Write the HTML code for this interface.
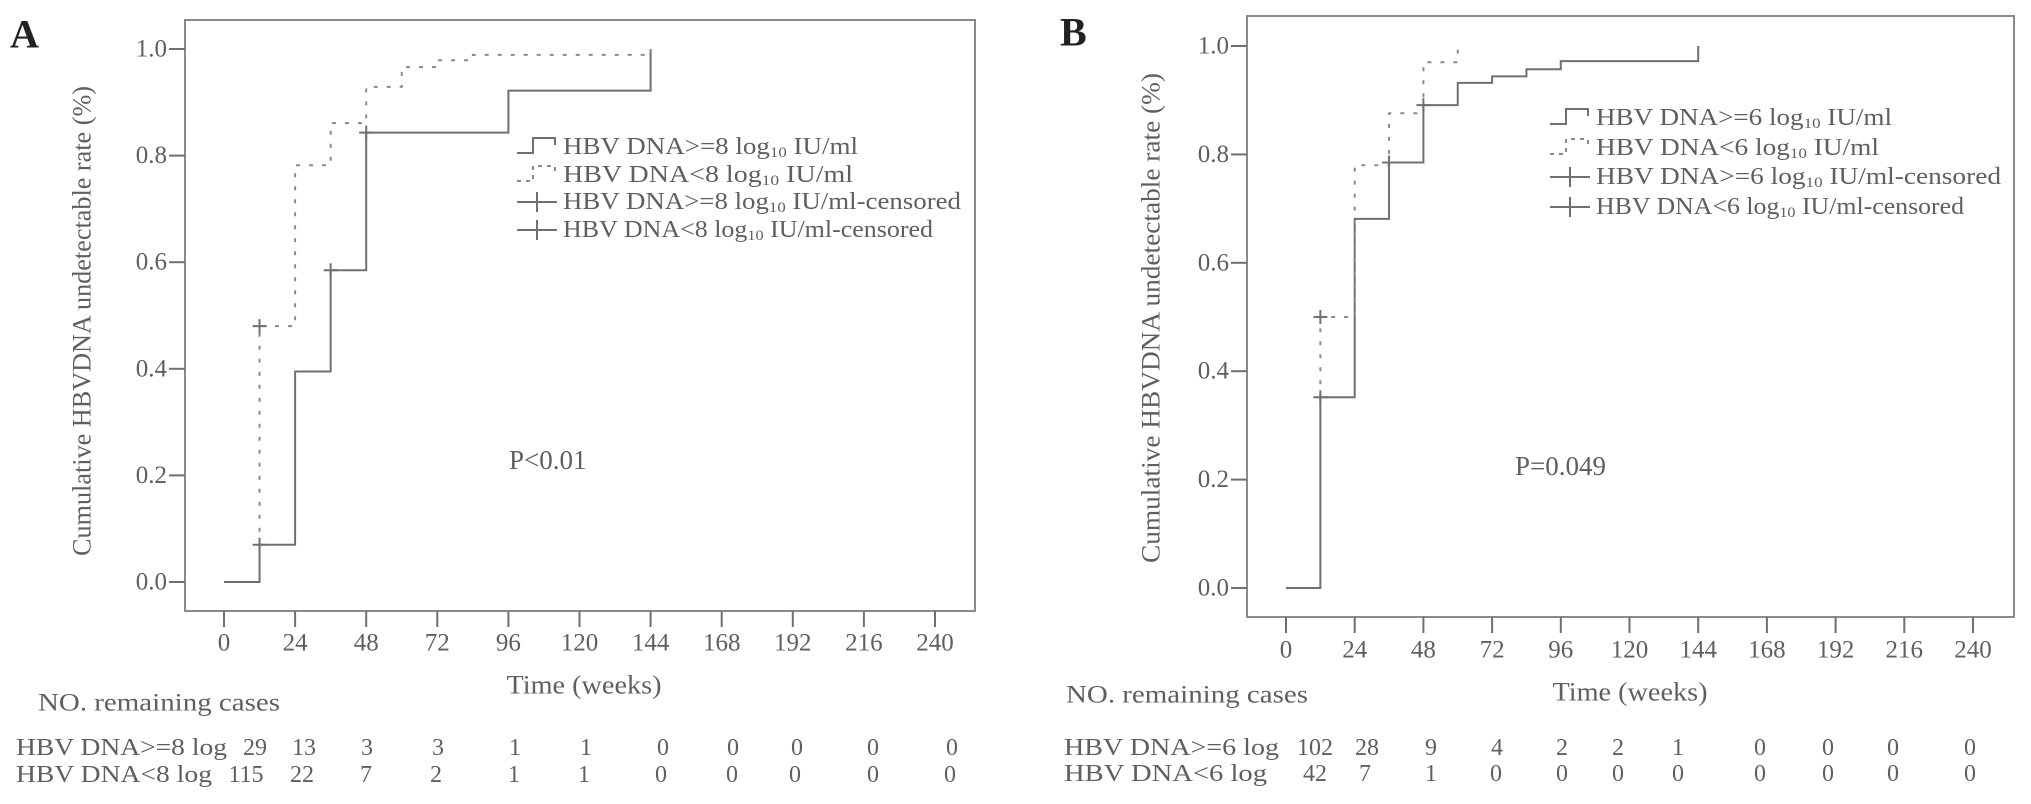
<!DOCTYPE html>
<html><head><meta charset="utf-8">
<style>
html,body{margin:0;padding:0;background:#fff;}
svg{display:block;}
text{font-family:"Liberation Serif",serif;fill:#5f5f5f;}
</style></head>
<body>
<svg id="fig" width="2031" height="804" viewBox="0 0 2031 804" xmlns="http://www.w3.org/2000/svg"></svg>
<script>
// ---------- Panel A data ----------
const xTicks = [0,24,48,72,96,120,144,168,192,216,240];
const yTicks = [0.0,0.2,0.4,0.6,0.8,1.0];
const aHighT = [0,12,24,36,48,96,144];
const aHighV = [0,0.07,0.395,0.585,0.843,0.922,1.0];
const aLowT = [12,24,36,48,60,72,84,144];
const aLowV = [0.48,0.782,0.861,0.929,0.966,0.979,0.989,1.0];
const aLowStartV = 0.07;
const aHighCensT = [12,36,48];
const aLowCensT = [12];
const aRowHigh = [29,13,3,3,1,1,0,0,0,0,0];
const aRowLow = [115,22,7,2,1,1,0,0,0,0,0];
// ---------- Panel B data ----------
const bHighT = [0,12,24,36,48,60,72,84,96,144];
const bHighV = [0,0.352,0.681,0.785,0.891,0.932,0.944,0.957,0.972,1.0];
const bLowT = [12,24,36,48,60];
const bLowV = [0.5,0.78,0.876,0.97,1.0];
const bLowStartV = 0.352;
const bHighCensT = [12,36,48];
const bLowCensT = [12];
const bRowHigh = [102,28,9,4,2,2,1,0,0,0,0];
const bRowLow = [42,7,1,0,0,0,0,0,0,0,0];

const NS="http://www.w3.org/2000/svg";
const svg=document.getElementById('fig');
const GRAY="#707070";
function mk(tag,attrs,parent){const e=document.createElementNS(NS,tag);for(const k in attrs)e.setAttribute(k,attrs[k]);(parent||svg).appendChild(e);return e;}
function txt(s,x,y,size,anchor,parent,tl){const a={x:x,y:y,'font-size':size,'text-anchor':anchor||'start','dominant-baseline':'central'};if(tl){a.textLength=tl;a.lengthAdjust='spacingAndGlyphs';}const t=mk('text',a,parent);t.textContent=s;return t;}

function stepAt(T,V,t){let v=V[0];for(let i=0;i<T.length;i++){if(T[i]<=t)v=V[i];}return v;}

function panel(cfg){
  const g=mk('g',{});
  
  
  const X=t=>cfg.x0+t*cfg.xs;
  const Y=v=>cfg.y0-v*cfg.ys;
  const fr=mk('rect',{x:cfg.fl,y:cfg.ft,width:cfg.fr-cfg.fl,height:cfg.fb-cfg.ft,fill:'none',stroke:'#8a8a8a','stroke-width':2},g);
  
  
  const pl=mk('text',{x:cfg.lx,y:cfg.ly,'font-size':40,'font-weight':'bold','dominant-baseline':'central',style:'fill:#222'},g);
  pl.textContent=cfg.letter;
  
  
  yTicks.forEach(v=>{
    const l=mk('line',{x1:cfg.fl-16,x2:cfg.fl,y1:Y(v),y2:Y(v),stroke:GRAY,'stroke-width':2},g);
    
    
    const t=txt(v.toFixed(1),cfg.fl-18,Y(v),25,'end',g);
    
    
  });
  xTicks.forEach(tk=>{
    const l=mk('line',{x1:X(tk),x2:X(tk),y1:cfg.fb,y2:cfg.fb+16,stroke:GRAY,'stroke-width':2},g);
    
    
    const t=txt(String(tk),X(tk),cfg.tly,25,'middle',g);
    
    
  });
  const xt=txt('Time (weeks)',cfg.xtx,cfg.xty,26,'middle',g,155);
  
  
  const yt=mk('text',{x:0,y:0,'font-size':26,'text-anchor':'middle','dominant-baseline':'central',transform:`translate(${cfg.ytx},${cfg.yty}) rotate(-90)`,textLength:cfg.ytl,lengthAdjust:'spacingAndGlyphs'},g);
  yt.textContent='Cumulative HBVDNA undetectable rate (%)';
  
  
  let d=`M${X(cfg.hT[0])},${Y(cfg.hV[0])}`;
  for(let i=1;i<cfg.hT.length;i++){d+=` H${X(cfg.hT[i])} V${Y(cfg.hV[i])}`;}
  const sp=mk('path',{d:d,fill:'none',stroke:GRAY,'stroke-width':2},g);
  
  
  let d2=`M${X(cfg.lT[0])},${Y(cfg.lStart)} V${Y(cfg.lV[0])}`;
  for(let i=1;i<cfg.lT.length;i++){d2+=` H${X(cfg.lT[i])} V${Y(cfg.lV[i])}`;}
  const dp=mk('path',{d:d2,fill:'none',stroke:'#8a8a8a','stroke-width':2,'stroke-dasharray':'4,9'},g);
  
  
  cfg.hC.forEach(t=>{
    const v=stepAt(cfg.hT,cfg.hV,t);
    const c=mk('path',{d:`M${X(t)-7},${Y(v)} H${X(t)+7} M${X(t)},${Y(v)-7} V${Y(v)+7}`,stroke:GRAY,'stroke-width':2},g);
    
    
  });
  cfg.lC.forEach(t=>{
    const v=stepAt(cfg.lT,cfg.lV,t);
    const c=mk('path',{d:`M${X(t)-7},${Y(v)} H${X(t)+7} M${X(t)},${Y(v)-7} V${Y(v)+7}`,stroke:GRAY,'stroke-width':2},g);
    
    
  });
  const lg=mk('g',{},g);
  
  
  cfg.legend.forEach((lab,i)=>{
    const y=cfg.legY[i], x=cfg.legX;
    let sym;
    if(i===0) sym=mk('path',{d:`M${x},${y+6} H${x+16} V${y-9} H${x+38} V${y-2}`,fill:'none',stroke:GRAY,'stroke-width':2},lg);
    else if(i===1) sym=mk('path',{d:`M${x},${y+6} H${x+16} V${y-9} H${x+38} V${y-2}`,fill:'none',stroke:'#8a8a8a','stroke-width':2,'stroke-dasharray':'4,5'},lg);
    else sym=mk('path',{d:`M${x},${y} H${x+40} M${x+20},${y-10} V${y+10}`,fill:'none',stroke:GRAY,'stroke-width':2},lg);
    
    
    const t=mk('text',{x:x+46,y:y,'font-size':24,'dominant-baseline':'central',textLength:cfg.legW[i],lengthAdjust:'spacingAndGlyphs'},lg);
    t.innerHTML=lab;
    
    
  });
  const p=txt(cfg.p,cfg.px,cfg.py,27,'start',g);
  
  
  const nr=txt('NO. remaining cases',cfg.nrx,cfg.nry,25,'start',g,242);
  
  
  [[cfg.r1lab,cfg.r1,cfg.r1y,cfg.r1x,cfg.r1w],[cfg.r2lab,cfg.r2,cfg.r2y,cfg.r2x,cfg.r2w]].forEach(([lab,vals,y,xs,w])=>{
    const l=txt(lab,cfg.rlx,y,24,'start',g,w);
    
    
    vals.forEach((v,i)=>{
      const c=txt(String(v),xs[i],y,24,'middle',g);
      
      
    });
  });
}

panel({name:'panel-a',letter:'A',lx:10,ly:34,fl:185,ft:20,fr:975,fb:611,x0:224,xs:71.1/24,y0:582,ys:533,tly:643,
  xtx:584,xty:685,ytx:82,yty:321,ytl:470,
  hT:aHighT,hV:aHighV,lT:aLowT,lV:aLowV,lStart:aLowStartV,hC:aHighCensT,lC:aLowCensT,
  legX:517,legY:[147,175,202,230],legW:[295,290,398,370],
  legend:['HBV DNA&gt;=8 log<tspan font-size="15" dy="6">10</tspan><tspan dy="-6"> IU/ml</tspan>','HBV DNA&lt;8 log<tspan font-size="15" dy="6">10</tspan><tspan dy="-6"> IU/ml</tspan>','HBV DNA&gt;=8 log<tspan font-size="15" dy="6">10</tspan><tspan dy="-6"> IU/ml-censored</tspan>','HBV DNA&lt;8 log<tspan font-size="15" dy="6">10</tspan><tspan dy="-6"> IU/ml-censored</tspan>'],
  p:'P<0.01',px:509,py:460,
  nrx:38,nry:703,rlx:16,r1lab:'HBV DNA>=8 log',r2lab:'HBV DNA<8 log',r1w:211,r2w:196,r1:aRowHigh,r2:aRowLow,r1y:748,r2y:775,
  r1x:[255,304,367,438,515,586,663,733,797,873,952],r2x:[246,302,366,436,514,584,661,732,795,873,950]});

panel({name:'panel-b',letter:'B',lx:1060,ly:32,fl:1247,ft:16,fr:2014,fb:617,x0:1286,xs:68.7/24,y0:588,ys:542,tly:650,
  xtx:1630,xty:692,ytx:1151,yty:318,ytl:490,
  hT:bHighT,hV:bHighV,lT:bLowT,lV:bLowV,lStart:bLowStartV,hC:bHighCensT,lC:bLowCensT,
  legX:1550,legY:[118,148,177,207],legW:[296,283,405,368],
  legend:['HBV DNA&gt;=6 log<tspan font-size="15" dy="6">10</tspan><tspan dy="-6"> IU/ml</tspan>','HBV DNA&lt;6 log<tspan font-size="15" dy="6">10</tspan><tspan dy="-6"> IU/ml</tspan>','HBV DNA&gt;=6 log<tspan font-size="15" dy="6">10</tspan><tspan dy="-6"> IU/ml-censored</tspan>','HBV DNA&lt;6 log<tspan font-size="15" dy="6">10</tspan><tspan dy="-6"> IU/ml-censored</tspan>'],
  p:'P=0.049',px:1515,py:466,
  nrx:1066,nry:695,rlx:1064,r1lab:'HBV DNA>=6 log',r2lab:'HBV DNA<6 log',r1w:215,r2w:203,r1:bRowHigh,r2:bRowLow,r1y:748,r2y:774,
  r1x:[1315,1367,1431,1497,1562,1618,1678,1760,1828,1893,1970],r2x:[1315,1365,1431,1496,1562,1618,1678,1760,1828,1893,1970]});
</script>
</body></html>
